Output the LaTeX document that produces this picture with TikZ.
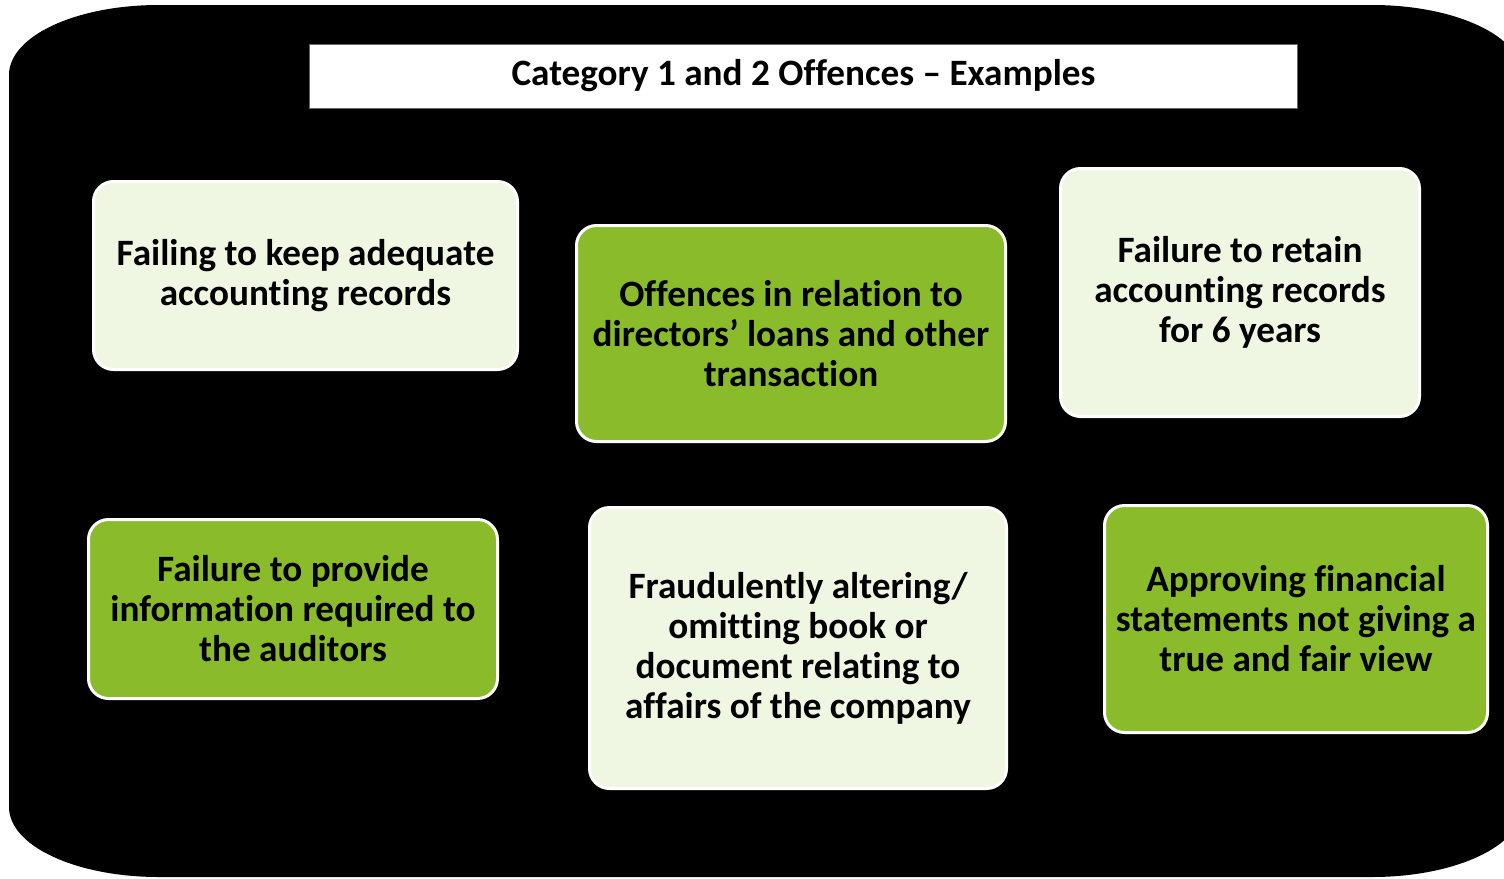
\documentclass[tikz,border=0pt]{standalone}
\usepackage{fontspec}
\setmainfont{Carlito}[Ligatures=NoCommon]
\usepackage{xcolor}

\definecolor{paleGreen}{HTML}{EFF7E3}
\definecolor{leafGreen}{HTML}{89BB2A}

\tikzset{
    box/.style={draw=white, line width=1.5pt, rounded corners=10pt, align=center,
        inner sep=0pt, font=\bfseries\fontsize{18.6}{20}\selectfont},
    pale/.style={box, fill=paleGreen},
    leaf/.style={box, fill=leafGreen},
    banner/.style={draw=black!60, line width=0.5pt, fill=white, inner sep=0pt,
        font=\bfseries\fontsize{18.6}{20}\selectfont}
}

\begin{document}
\begin{tikzpicture}[x=0.5pt, y=-0.5pt]
    \useasboundingbox (0,0) rectangle (1504,878);
    \clip (0,0) rectangle (1504,878);
    \fill[white] (0,0) rectangle (1504,878);
    % black backdrop with flat elliptic corners
    \fill[black] (159,5) -- (1372,5)
        .. controls (1455,5) and (1522,36) .. (1522,75)
        -- (1522,807)
        .. controls (1522,846) and (1455,877) .. (1372,877)
        -- (159,877)
        .. controls (76,877) and (9,846) .. (9,807)
        -- (9,75)
        .. controls (9,36) and (76,5) .. (159,5) -- cycle;

    \node[banner, minimum width=494pt, minimum height=32pt] (title) at (803.5,76)
        {Category 1 and 2 Offences -- Examples};

    % top row
    \node[pale, minimum width=212pt, minimum height=94pt] (keep) at (305.5,275.5)
        {Failing to keep adequate\\accounting records};
    \node[leaf, minimum width=214.5pt, minimum height=108pt] (loans) at (791,333.5)
        {Offences in relation to\\directors’ loans and other\\transaction};
    \node[pale, minimum width=179.5pt, minimum height=124pt] (retain) at (1240,292.5)
        {Failure to retain\\accounting records\\for 6 years};

    % bottom row
    \node[leaf, minimum width=204.5pt, minimum height=89.5pt] (auditors) at (293,609)
        {Failure to provide\\information required to\\the auditors};
    \node[pale, minimum width=208.5pt, minimum height=140.5pt] (fraud) at (798,648)
        {Fraudulently altering/\\omitting book or\\document relating to\\affairs of the company};
    \node[leaf, minimum width=191.5pt, minimum height=113.5pt] (view) at (1296,619)
        {Approving financial\\statements not giving a\\true and fair view};
\end{tikzpicture}
\end{document}
